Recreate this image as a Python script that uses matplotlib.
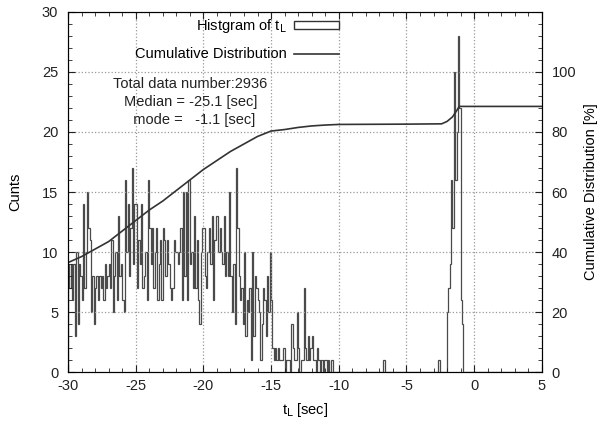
import numpy as np
import matplotlib
matplotlib.use('Agg')
import matplotlib.pyplot as plt
from matplotlib.patches import Patch
from matplotlib.lines import Line2D
from matplotlib.ticker import MultipleLocator

plt.rcParams['font.family'] = ['Liberation Sans', 'DejaVu Sans']
plt.rcParams['axes.unicode_minus'] = False

# histogram of t_L, 0.1 s bins
bin_width = 0.1
x_min, x_max = -30.0, 5.0

# bins from -30.0 to -10.0
counts_early = [
    9, 7, 9, 6, 9, 3, 10, 4, 9, 8,
    6, 14, 7, 10, 15, 12, 11, 5, 8, 4,
    7, 8, 6, 8, 7, 8, 6, 9, 7, 8,
    9, 7, 11, 5, 8, 10, 6, 13, 8, 9,
    6, 5, 16, 10, 14, 8, 12, 17, 9, 14,
    14, 7, 11, 9, 14, 7, 8, 10, 6, 16,
    12, 9, 12, 7, 10, 12, 6, 9, 11, 6,
    12, 11, 8, 11, 9, 7, 6, 7, 11, 10,
    10, 9, 10, 12, 6, 15, 8, 15, 6, 16,
    9, 10, 7, 13, 7, 11, 6, 4, 10, 12,
    12, 8, 7, 10, 12, 9, 13, 6, 11, 13,
    13, 10, 12, 10, 9, 13, 8, 10, 8, 15,
    8, 5, 9, 4, 17, 12, 8, 6, 7, 4,
    10, 3, 6, 5, 7, 1, 10, 3, 8, 7,
    6, 5, 1, 4, 7, 6, 3, 8, 5, 10,
    6, 2, 1, 2, 1, 2, 1, 1, 1, 2,
    0, 1, 1, 1, 0, 4, 2, 1, 1, 5,
    2, 0, 1, 1, 7, 2, 1, 3, 1, 2,
    3, 1, 1, 0, 2, 1, 0, 1, 0, 1,
    1, 0, 1, 0, 1, 1, 0, 0, 0, 0,
]
# isolated bin near -6.7
lone_start, lone_count = -6.7, 1
# bins from -2.8 to -0.8
peak_start = -2.8
counts_peak = [0, 1, 1, 0, 0, 0, 0, 0, 5, 7, 9, 16, 12, 25, 16, 20, 28, 22, 6, 4, 0]

# cumulative distribution [%]
cum_t = [-30, -29, -28, -27, -26, -25, -24, -23, -22, -21, -20, -19, -18,
         -17, -16, -15, -14, -13, -12, -11, -10, -5, -2.4, -2.0, -1.6,
         -1.3, -1.1, 5]
cum_pct = [36.5, 38.5, 41, 43.5, 47, 50.5, 54, 57, 60.5, 64, 67.5, 70.5, 73.5,
           76, 78.5, 80.3, 80.8, 81.5, 82, 82.3, 82.5, 82.6, 82.7, 83.5, 85,
           87, 88.5, 88.5]

n_bins = int(round((x_max - x_min) / bin_width))
edges = x_min + bin_width * np.arange(n_bins + 1)
counts = np.zeros(n_bins)
counts[:len(counts_early)] = counts_early
i0 = int(round((lone_start - x_min) / bin_width))
counts[i0] = lone_count
i0 = int(round((peak_start - x_min) / bin_width))
counts[i0:i0 + len(counts_peak)] = counts_peak

fig = plt.figure(figsize=(6.02, 4.22), dpi=100)
ax = fig.add_axes([0.113, 0.118, 0.787, 0.854])

ax.stairs(counts, edges, color='#4a4a4a', linewidth=0.9)
ax.set_xlim(x_min, x_max)
ax.set_ylim(0, 30)
ax.xaxis.set_major_locator(MultipleLocator(5))
ax.xaxis.set_minor_locator(MultipleLocator(1))
ax.yaxis.set_major_locator(MultipleLocator(5))
ax.yaxis.set_minor_locator(MultipleLocator(1))
ax.grid(True, which='major', linestyle=':', color='#999999', linewidth=0.9)
ax.tick_params(which='both', direction='in', top=True, labelsize=10.5, colors='#222222')
ax.tick_params(which='major', length=5)
ax.tick_params(which='minor', length=3)
ax.tick_params(axis='y', pad=7)
ax.tick_params(axis='x', pad=5)
ax.set_xlabel('t$_{\\rm L}$ [sec]', fontsize=10.5, labelpad=6)
ax.set_ylabel('Cunts', fontsize=10.5, labelpad=14)

ax2 = ax.twinx()
ax2.plot(cum_t, cum_pct, color='#333333', linewidth=1.2)
ax2.set_ylim(0, 120)
ax2.set_yticks([0, 20, 40, 60, 80, 100])
ax2.yaxis.set_minor_locator(MultipleLocator(4))
ax2.tick_params(which='both', direction='in', labelsize=10.5, colors='#222222')
ax2.tick_params(which='major', length=5, pad=7)
ax2.tick_params(which='minor', length=3)
ax2.set_ylabel('Cumulative Distribution [%]', fontsize=10.5, labelpad=6)

handles = [Patch(facecolor='white', edgecolor='#333333', linewidth=1.0),
           Line2D([], [], color='#333333', linewidth=1.2)]
ax.legend(handles, ['Histgram of t$_{\\rm L}$', 'Cumulative Distribution'],
          loc='upper right', bbox_to_anchor=(0.6, 1.022), frameon=False,
          markerfirst=False, fontsize=10.5, handlelength=3.1,
          labelspacing=0.85, handleheight=0.5, handletextpad=0.5)

ax.text(0.258, 0.818, 'Total data number:2936\nMedian = -25.1 [sec]\n  mode =   -1.1 [sec]',
        transform=ax.transAxes, ha='center', va='top', fontsize=10.5,
        linespacing=1.35, color='#222222')

for s in ax.spines.values():
    s.set_color('#333333')

fig.savefig('out.png', dpi=100)
